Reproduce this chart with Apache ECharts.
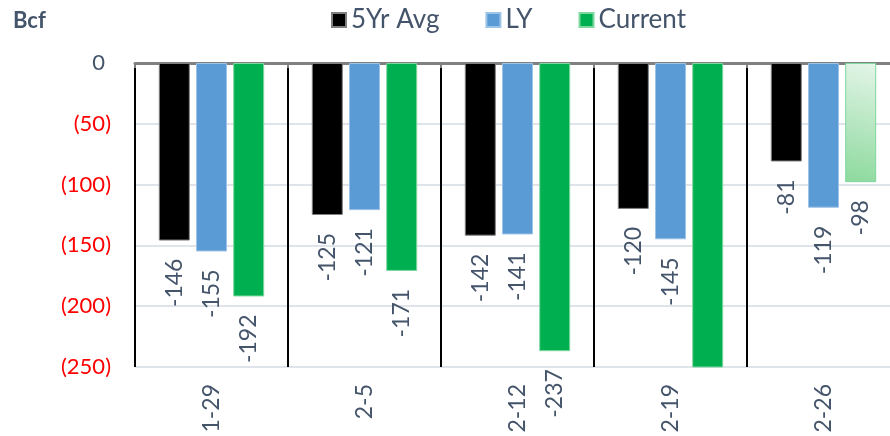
<!DOCTYPE html>
<html>
<head>
<meta charset="utf-8">
<script src="https://cdn.jsdelivr.net/npm/echarts@6/dist/echarts.min.js"></script>
<style>
  html, body { margin: 0; padding: 0; background: #fff; }
  #chartBox { width: 890px; height: 436px; }
</style>
</head>
<body>
<div id="chartBox"></div>
<script>
// weekly storage change, Bcf
var categories = ['1-29', '2-5', '2-12', '2-19', '2-26'];
var avg5Yr = [-146, -125, -142, -120, -81];
var lastYear = [-155, -121, -141, -145, -119];
var current = [-192, -171, -237, -338, -98];

var textColor = '#44546a';
var fontName = 'Lato';

function buildCurrent(data) {
    var list = [];
    for (var i = 0; i < data.length; i++) {
        var item = { value: data[i] };
        if (i === data.length - 1) {
            // latest week is an estimate, drawn faded
            item.itemStyle = {
                color: new echarts.graphic.LinearGradient(0, 1, 1, 0, [
                    { offset: 0, color: '#8cd99d' },
                    { offset: 1, color: '#e4f5e8' }
                ])
            };
        }
        if (data[i] < -250) {
            item.label = { show: false };
        }
        list.push(item);
    }
    return list;
}

function barLabel() {
    return {
        show: true,
        position: 'bottom',
        distance: 18,
        rotate: 90,
        align: 'right',
        verticalAlign: 'middle',
        color: textColor,
        fontFamily: fontName,
        fontSize: 23
    };
}

var chart = echarts.init(document.getElementById('chartBox'));
var option = {
    animation: false,
    title: {
        text: 'Bcf',
        left: 8,
        top: 5,
        textStyle: { color: textColor, fontFamily: fontName, fontSize: 22, fontWeight: 'bold' }
    },
    legend: {
        left: 326,
        top: 2,
        icon: 'rect',
        itemWidth: 14,
        itemHeight: 14,
        itemGap: 46,
        textStyle: { color: textColor, fontFamily: fontName, fontSize: 26 },
        data: ['5Yr Avg', 'LY', 'Current']
    },
    grid: { left: 135, top: 63, bottom: 69, width: 765, outerBoundsMode: 'none' },
    xAxis: [
        {
            type: 'category',
            data: categories,
            position: 'bottom',
            axisLine: { show: true, lineStyle: { color: '#dfe3ea', width: 2 } },
            axisTick: { show: false, alignWithLabel: true },
            axisLabel: {
                rotate: 90,
                margin: 17,
                color: textColor,
                fontFamily: fontName,
                fontSize: 23
            },
            splitLine: { show: true, lineStyle: { color: '#edf0f4', width: 2 } }
        },
        {
            type: 'category',
            data: categories,
            position: 'top',
            axisLine: { show: true, onZero: false, lineStyle: { color: '#808080', width: 3 } },
            axisTick: { show: true, inside: true, length: 5, lineStyle: { color: '#808080', width: 2 } },
            axisLabel: { show: false },
            splitLine: { show: true, lineStyle: { color: '#000', width: 2 } }
        }
    ],
    yAxis: {
        type: 'value',
        min: -250,
        max: 0,
        interval: 50,
        axisLine: { show: false },
        axisTick: { show: false },
        axisLabel: {
            margin: 24,
            formatter: function (v) {
                if (v === 0) return '{z|0}';
                return '{r|(' + (-v) + ')}';
            },
            rich: {
                z: { color: textColor, fontFamily: fontName, fontSize: 22, padding: [0, 6, 0, 0] },
                r: { color: '#ff0000', fontFamily: fontName, fontSize: 22 }
            }
        },
        splitLine: { show: true, lineStyle: { color: '#dfe3ea', width: 2 } }
    },
    series: [
        {
            name: '5Yr Avg',
            type: 'bar',
            barWidth: 31,
            barGap: '20%',
            data: avg5Yr,
            itemStyle: { color: '#000000', borderColor: '#808080', borderWidth: 1 },
            label: barLabel()
        },
        {
            name: 'LY',
            type: 'bar',
            barWidth: 31,
            barGap: '20%',
            data: lastYear,
            itemStyle: { color: '#5b9bd5', borderColor: '#9dc3e6', borderWidth: 1 },
            label: barLabel()
        },
        {
            name: 'Current',
            type: 'bar',
            barWidth: 31,
            barGap: '20%',
            data: buildCurrent(current),
            itemStyle: { color: '#00b050', borderColor: '#7fd7a0', borderWidth: 1 },
            label: barLabel()
        }
    ]
};
chart.setOption(option);
</script>
</body>
</html>
